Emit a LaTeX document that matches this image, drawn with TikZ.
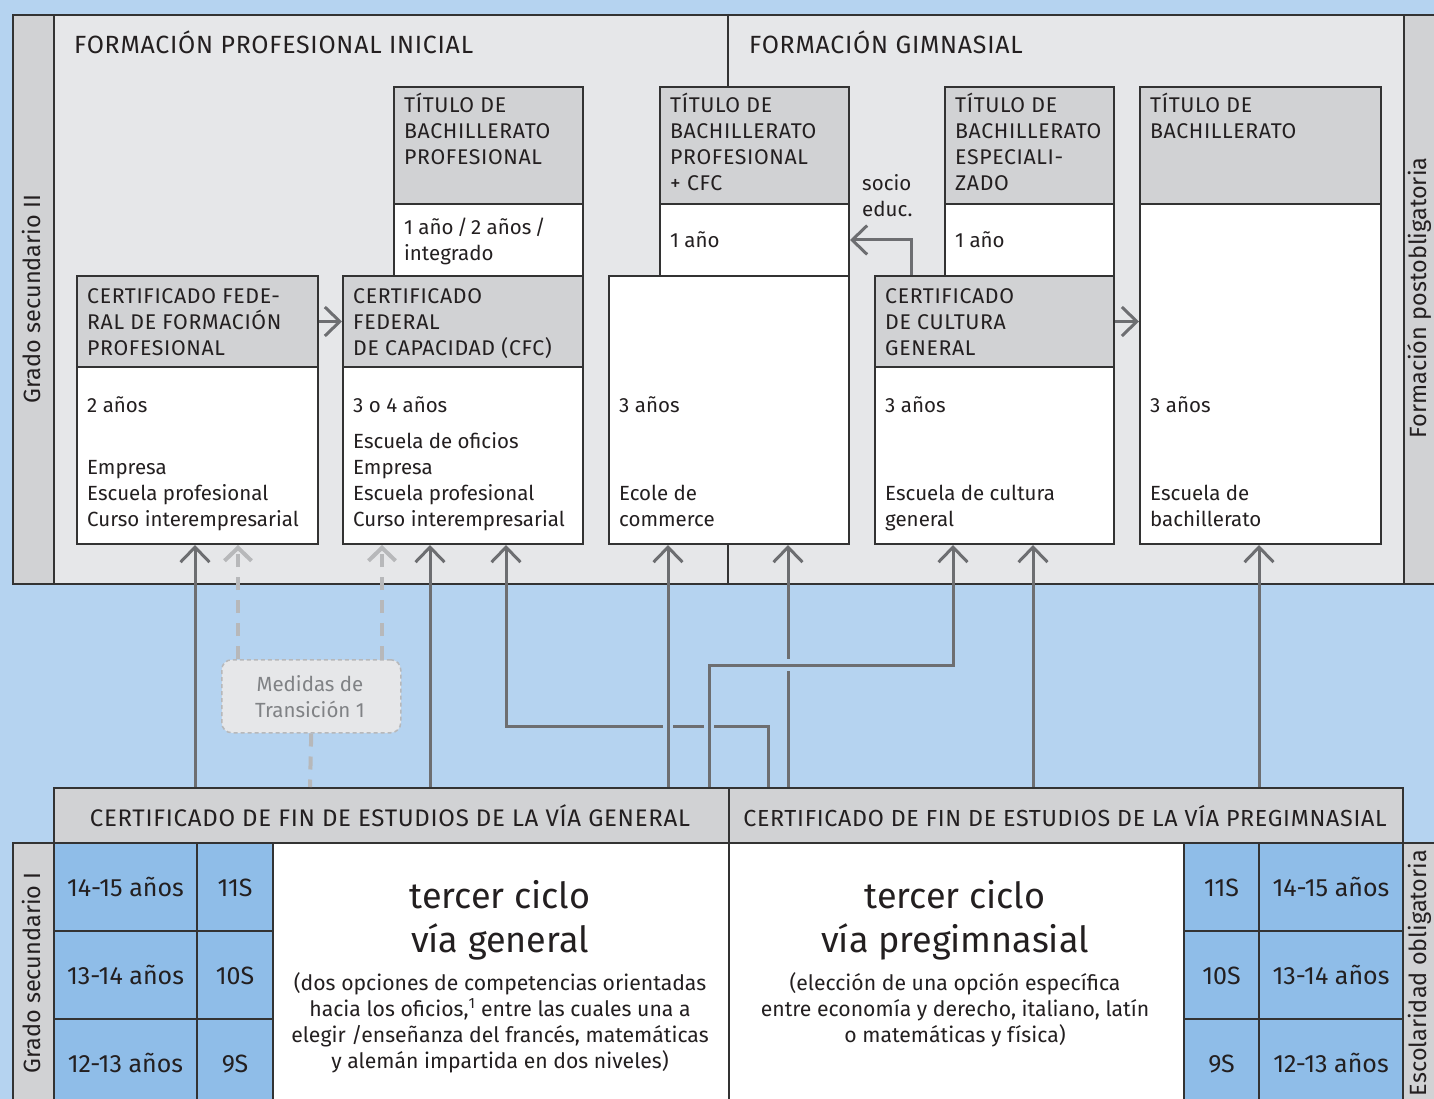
\documentclass[tikz,border=0pt]{standalone}
\usepackage{fontspec}
\setmainfont{Fira Sans}
\newfontfamily\capsf{Fira Sans}[LetterSpace=3]
\usetikzlibrary{arrows.meta}

\definecolor{bgblue}{HTML}{B5D3F0}
\definecolor{panelgray}{HTML}{E6E7E9}
\definecolor{hdrgray}{HTML}{D1D2D4}
\definecolor{cellblue}{HTML}{8FBDE8}
\definecolor{arrowgray}{HTML}{6D6E71}
\definecolor{dashgray}{HTML}{B7B8BA}
\definecolor{measgray}{HTML}{808285}
\definecolor{inkc}{HTML}{231F20}
\definecolor{linec}{HTML}{333333}

\tikzset{
  frame/.style={draw=linec, line width=2pt},
  panel/.style={frame, fill=panelgray, anchor=north west, inner sep=0pt},
  strip/.style={frame, fill=hdrgray, anchor=north west, inner sep=0pt},
  hdr/.style={frame, fill=hdrgray, anchor=north west, inner sep=0pt},
  body/.style={frame, fill=white, anchor=north west, inner sep=0pt},
  bar/.style={frame, fill=hdrgray, anchor=north west, inner sep=0pt},
  cell/.style={frame, fill=cellblue, anchor=north west, inner sep=0pt, minimum height=88,
    text=inkc, text height=19pt, text depth=0pt, font=\fontsize{25}{30}\selectfont},
  meas/.style={draw=dashgray, line width=1.5pt, dash pattern=on 4pt off 3pt, rounded corners=10pt,
    fill=panelgray, anchor=north west, inner sep=0pt},
  txt/.style={anchor=base west, inner sep=0pt, text=inkc, font=\fontsize{20.5}{26}\selectfont},
  captxt/.style={txt, font=\capsf\fontsize{21.3}{26}\selectfont},
  ctxt/.style={txt, anchor=base, font=\fontsize{21.2}{26}\selectfont},
  mtxt/.style={txt, anchor=base, text=measgray},
  head/.style={anchor=base west, inner sep=0pt, text=inkc, font=\capsf\fontsize{24.9}{28}\selectfont},
  bartxt/.style={head, anchor=base},
  big/.style={anchor=base, inner sep=0pt, text=inkc, font=\fontsize{36}{44}\selectfont},
  rot/.style={rotate=90, anchor=base, inner sep=0pt, text=inkc, font=\fontsize{23.5}{28}\selectfont},
  up/.style={draw=arrowgray, line width=3pt, -{Straight Barb[length=15pt, width=29pt]}},
  upmeas/.style={draw=dashgray, line width=4pt, dash pattern=on 13pt off 10pt,
    -{Straight Barb[length=13pt, width=27pt]}},
  measline/.style={draw=dashgray, line width=4pt, dash pattern=on 13pt off 10pt},
}

% lines of text, 26px apart: style, x, first baseline, name, lines
\newcommand{\tlines}[5]{%
  \foreach \lin [count=\k from 0] in {#5}
    \node[#1] (#4\k) at (#2,{#3+26*\k}) {\lin};}
% box from its corners: style, x1, y1, x2, y2, name
\newcommand{\pbox}[6]{%
  \node[#1, minimum width={#4-#2}, minimum height={#5-#3}] (#6) at (#2,#3) {};}

\begin{document}
\begin{tikzpicture}[x=1pt, y=-1pt]
  \clip (0,0) rectangle (1434,1099);
  \fill[bgblue] (0,0) rectangle (1434,1099);

  % x positions of the connectors
  \foreach \x in {195,238,310,382,430,506,668,709,768,788,911,953,1033,1259,728}
    \coordinate (p\x) at (\x,0);
  \coordinate (h1) at (0,726);
  \coordinate (h2) at (0,665);

  % upper block
  \pbox{panel}{12}{14}{1450}{583}{upper}
  \pbox{strip}{12}{14}{53}{583}{stripA}
  \pbox{strip}{1403}{14}{1450}{583}{stripB}
  \draw[frame] (upper.north -| p728) -- (upper.south -| p728);
  \node[rot] (gradoII) at (40,299) {Grado secundario II};
  \node[rot] (postob) at (1426,298) {Formación postobligatoria};

  \node[head] (fpi) at (74,54) {FORMACIÓN PROFESIONAL INICIAL};
  \node[head] (fgi) at (749,54) {FORMACIÓN GIMNASIAL};

  \pbox{hdr}{393}{86}{582}{203}{bp1hdr}
  \pbox{body}{393}{203}{582}{275}{bp1body}
  \pbox{hdr}{659}{86}{848}{203}{bp2hdr}
  \pbox{body}{659}{203}{848}{275}{bp2body}
  \pbox{hdr}{944}{86}{1113}{203}{bpehdr}
  \pbox{body}{944}{203}{1113}{275}{bpebody}
  \pbox{hdr}{1139}{86}{1380}{203}{bachhdr}
  \pbox{body}{1139}{203}{1380}{543}{bachbody}
  \pbox{hdr}{76}{275}{317}{366}{fedhdr}
  \pbox{body}{76}{366}{317}{543}{fedbody}
  \pbox{hdr}{342}{275}{582}{366}{cfchdr}
  \pbox{body}{342}{366}{582}{543}{cfcbody}
  \pbox{body}{608}{275}{848}{543}{ecbody}
  \pbox{hdr}{874}{275}{1113}{366}{culthdr}
  \pbox{body}{874}{366}{1113}{543}{cultbody}

  \tlines{captxt}{404}{113}{bp1t}{TÍTULO DE,BACHILLERATO,PROFESIONAL}
  \tlines{txt}{404}{235}{bp1d}{1 año\,/\,2 años\,/,integrado}
  \tlines{captxt}{670}{113}{bp2t}{TÍTULO DE,BACHILLERATO,PROFESIONAL,+ CFC}
  \tlines{txt}{670}{248}{bp2d}{1 año}
  \tlines{txt}{862}{191}{socio}{socio,educ.}
  \tlines{captxt}{955}{113}{bpet}{TÍTULO DE,BACHILLERATO,ESPECIALI-,ZADO}
  \tlines{txt}{955}{248}{bped}{1 año}
  \tlines{captxt}{1150}{113}{bacht}{TÍTULO DE,BACHILLERATO}
  \tlines{txt}{1150}{412}{bachd}{3 años}
  \tlines{txt}{1150}{500}{bachs}{Escuela de,bachillerato}
  \tlines{captxt}{87}{303}{fedt}{CERTIFICADO FEDE-,RAL DE FORMACIÓN,PROFESIONAL}
  \tlines{txt}{87}{412}{fedd}{2 años}
  \tlines{txt}{87}{474}{feds}{Empresa,Escuela profesional,Curso interempresarial}
  \tlines{captxt}{353}{303}{cfct}{CERTIFICADO,FEDERAL,DE CAPACIDAD (CFC)}
  \tlines{txt}{353}{412}{cfcd}{3 o 4 años}
  \tlines{txt}{353}{448}{cfcs}{Escuela de oficios,Empresa,Escuela profesional,Curso interempresarial}
  \tlines{txt}{619}{412}{ecd}{3 años}
  \tlines{txt}{619}{500}{ecs}{Ecole de,commerce}
  \tlines{captxt}{885}{303}{cultt}{CERTIFICADO,DE CULTURA,GENERAL}
  \tlines{txt}{885}{412}{cultd}{3 años}
  \tlines{txt}{885}{500}{cults}{Escuela de cultura,general}

  % transition measures
  \pbox{meas}{221}{659}{400}{732}{meas}
  \tlines{mtxt}{310}{691}{meast}{Medidas de,Transición 1}

  % lower block
  \pbox{bar}{53}{787}{728}{842}{certgen}
  \pbox{bar}{728}{787}{1402}{842}{certpre}
  \node[bartxt, font=\capsf\fontsize{24}{28}\selectfont] (certgent) at (390,826)
    {CERTIFICADO DE FIN DE ESTUDIOS DE LA VÍA GENERAL};
  \node[bartxt, font=\capsf\fontsize{23.25}{28}\selectfont] (certpret) at (1065,826)
    {CERTIFICADO DE FIN DE ESTUDIOS DE LA VÍA PREGIMNASIAL};

  \pbox{strip}{12}{842}{53}{1110}{stripC}
  \pbox{strip}{1402}{842}{1450}{1110}{stripD}
  \node[rot] (gradoI) at (40,973) {Grado secundario I};
  \node[rot] (escob) at (1426,973) {Escolaridad obligatoria};

  \pbox{body}{272}{842}{728}{1110}{tcgen}
  \pbox{body}{728}{842}{1183}{1110}{tcpre}
  \foreach \a/\g [count=\i from 0] in {14-15 años/11S,13-14 años/10S,12-13 años/9S} {
    \node[cell, minimum width=143] (ageL\i) at (53,{842+88*\i}) {\a};
    \node[cell, minimum width=76] (grdL\i) at (196,{842+88*\i}) {\g};
    \node[cell, minimum width=75] (grdR\i) at (1183,{842+88*\i}) {\g};
    \node[cell, minimum width=144] (ageR\i) at (1258,{842+88*\i}) {\a};
  }

  \node[big] (tcg1) at (500,908) {tercer ciclo};
  \node[big] (tcg2) at (500,952) {vía general};
  \tlines{ctxt}{500}{990}{tcgs}{{(dos opciones de competencias orientadas},{hacia los oficios,\textsuperscript{1} entre las cuales una a},{elegir /enseñanza del francés, matemáticas},{y alemán impartida en dos niveles)}}
  \node[big] (tcp1) at (955,908) {tercer ciclo};
  \node[big] (tcp2) at (955,952) {vía pregimnasial};
  \tlines{ctxt}{955}{990}{tcps}{{(elección de una opción específica},{entre economía y derecho, italiano, latín},{o matemáticas y física)}}

  % connectors
  \draw[up] (fedhdr.east) -- (cfchdr.west);
  \draw[up] (culthdr.east) -- (bachbody.west |- culthdr.east);
  \draw[up] (culthdr.north -| p911) |- (bp2body.east);

  \draw[up] (certgen.north -| p195) -- (fedbody.south -| p195);
  \draw[upmeas] (meas.north -| p238) -- (fedbody.south -| p238);
  \draw[upmeas] (meas.north -| p382) -- (cfcbody.south -| p382);
  \draw[measline] (meas.south) -- (certgen.north -| p310);
  \draw[up] (certgen.north -| p430) -- (cfcbody.south -| p430);

  \draw[up] (certpre.north -| p768) |- (h1 -| p506) -- (cfcbody.south -| p506);
  \fill[bgblue] (663,720) rectangle (673,732);
  \draw[up] (certgen.north -| p668) -- (ecbody.south -| p668);
  \draw[up] (certpre.north -| p788) -- (ecbody.south -| p788);
  \fill[bgblue] (782,659) rectangle (794,671);
  \fill[bgblue] (704,720) rectangle (714,732);
  \draw[up] (certgen.north -| p709) |- (h2 -| p953) -- (cultbody.south -| p953);
  \draw[up] (certpre.north -| p1033) -- (cultbody.south -| p1033);
  \draw[up] (certpre.north -| p1259) -- (bachbody.south -| p1259);
\end{tikzpicture}
\end{document}
